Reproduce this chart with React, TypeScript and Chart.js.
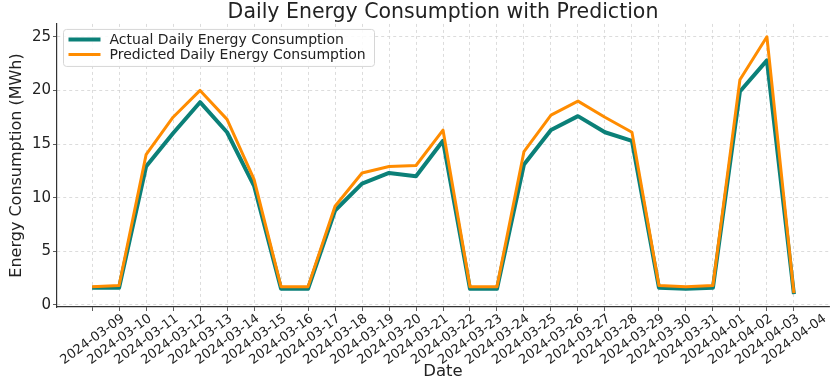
import { useEffect, useRef } from "react";
import { Chart, registerables } from "chart.js";

Chart.register(...registerables);

const dates = [
  "2024-03-09", "2024-03-10", "2024-03-11", "2024-03-12", "2024-03-13", "2024-03-14",
  "2024-03-15", "2024-03-16", "2024-03-17", "2024-03-18", "2024-03-19", "2024-03-20",
  "2024-03-21", "2024-03-22", "2024-03-23", "2024-03-24", "2024-03-25", "2024-03-26",
  "2024-03-27", "2024-03-28", "2024-03-29", "2024-03-30", "2024-03-31", "2024-04-01",
  "2024-04-02", "2024-04-03", "2024-04-04",
];

const actual = [
  1.6, 1.6, 12.9, 16.0, 18.9, 16.1, 11.1, 1.5, 1.5, 8.8, 11.3, 12.3, 12.0, 15.3,
  1.5, 1.5, 13.1, 16.3, 17.6, 16.1, 15.3, 1.6, 1.5, 1.6, 19.9, 22.8, 1.0,
];

const predicted = [
  1.7, 1.8, 14.0, 17.5, 20.0, 17.3, 11.7, 1.7, 1.7, 9.2, 12.3, 12.9, 13.0, 16.3,
  1.7, 1.7, 14.3, 17.7, 19.0, 17.5, 16.1, 1.8, 1.7, 1.8, 21.0, 25.0, 1.1,
];

const yTicks = [0, 5, 10, 15, 20, 25];

const FONT = "'DejaVu Sans', 'Noto Sans', sans-serif";

const boxLegend = {
  id: "boxLegend",
  afterDraw(chart: any) {
    const { ctx, chartArea } = chart;
    const x = chartArea.left + 6.5;
    const y = chartArea.top + 5.5;
    const w = 311;
    const h = 37;
    const r = 3;
    ctx.save();
    ctx.beginPath();
    ctx.moveTo(x + r, y);
    ctx.lineTo(x + w - r, y);
    ctx.arcTo(x + w, y, x + w, y + r, r);
    ctx.lineTo(x + w, y + h - r);
    ctx.arcTo(x + w, y + h, x + w - r, y + h, r);
    ctx.lineTo(x + r, y + h);
    ctx.arcTo(x, y + h, x, y + h - r, r);
    ctx.lineTo(x, y + r);
    ctx.arcTo(x, y, x + r, y, r);
    ctx.closePath();
    ctx.fillStyle = "rgba(255,255,255,0.85)";
    ctx.fill();
    ctx.strokeStyle = "#d6d6d6";
    ctx.lineWidth = 1;
    ctx.stroke();
    chart.data.datasets.forEach((ds: any, i: number) => {
      const cy = y + 10 + i * 15;
      ctx.beginPath();
      ctx.strokeStyle = ds.borderColor;
      ctx.lineWidth = ds.borderWidth;
      ctx.moveTo(x + 5, cy);
      ctx.lineTo(x + 37, cy);
      ctx.stroke();
      ctx.fillStyle = "#222";
      ctx.font = `14px ${FONT}`;
      ctx.textBaseline = "middle";
      ctx.textAlign = "left";
      ctx.fillText(ds.label, x + 46, cy + 0.5);
    });
    ctx.restore();
  },
};

export default function App() {
  const ref = useRef<HTMLCanvasElement | null>(null);

  useEffect(() => {
    document.body.style.margin = "0";
    const canvas = ref.current;
    if (!canvas) return;
    const chart = new Chart(canvas, {
      type: "line",
      data: {
        datasets: [
          {
            label: "Actual Daily Energy Consumption",
            data: actual.map((v, i) => ({ x: i, y: v })),
            borderColor: "#0b8078",
            backgroundColor: "#0b8078",
            borderWidth: 4,
            pointRadius: 0,
            tension: 0,
            borderJoinStyle: "round",
            order: 1,
          },
          {
            label: "Predicted Daily Energy Consumption",
            data: predicted.map((v, i) => ({ x: i, y: v })),
            borderColor: "#ff8c00",
            backgroundColor: "#ff8c00",
            borderWidth: 3,
            pointRadius: 0,
            tension: 0,
            borderJoinStyle: "round",
            order: 0,
          },
        ],
      },
      options: {
        animation: false,
        responsive: false,
        maintainAspectRatio: false,
        devicePixelRatio: 1,
        layout: { padding: { left: 0, right: 8, top: 0, bottom: 0 } },
        plugins: {
          legend: { display: false },
          tooltip: { enabled: false },
          title: {
            display: true,
            fullSize: false,
            text: "Daily Energy Consumption with Prediction",
            color: "#222",
            font: { family: FONT, size: 20.5, weight: "normal", lineHeight: 1.07 },
            padding: { top: 2, bottom: 0 },
          },
        },
        scales: {
          x: {
            type: "linear",
            min: -1.3,
            max: dates.length - 1 + 1.3,
            afterBuildTicks: (axis: any) => {
              axis.ticks = dates.map((_, i) => ({ value: i }));
            },
            afterFit: (axis: any) => {
              axis.height = 80;
            },
            ticks: {
              autoSkip: false,
              minRotation: 36,
              maxRotation: 36,
              labelOffset: 31,
              padding: 0,
              color: "#222",
              font: { family: FONT, size: 13 },
              callback: (v: any) => dates[v as number] ?? "",
            },
            grid: {
              color: "#d4d4d4",
              lineWidth: 0.8,
              tickLength: 4,
              tickColor: "#333",
              tickBorderDash: [],
            },
            border: { color: "#333", width: 1.2, dash: [3, 3] },
            title: {
              display: true,
              text: "Date",
              color: "#222",
              font: { family: FONT, size: 16.5 },
              padding: { top: 0, bottom: 5 },
            },
          },
          y: {
            type: "linear",
            min: -0.2,
            max: 26.2,
            afterBuildTicks: (axis: any) => {
              axis.ticks = yTicks.map((v) => ({ value: v }));
            },
            afterFit: (axis: any) => {
              axis.width = 57;
            },
            ticks: {
              padding: 2,
              color: "#222",
              font: { family: FONT, size: 15 },
            },
            grid: {
              color: "#d4d4d4",
              lineWidth: 0.8,
              tickLength: 4,
              tickColor: "#333",
              tickBorderDash: [],
            },
            border: { color: "#333", width: 1.2, dash: [3, 3] },
            title: {
              display: true,
              text: "Energy Consumption (MWh)",
              color: "#222",
              font: { family: FONT, size: 16 },
              padding: { top: 7, bottom: 0 },
            },
          },
        },
      },
      plugins: [boxLegend],
    } as any);
    return () => chart.destroy();
  }, []);

  return (
    <div style={{ width: 837, height: 387 }}>
      <canvas ref={ref} width={837} height={387} />
    </div>
  );
}
